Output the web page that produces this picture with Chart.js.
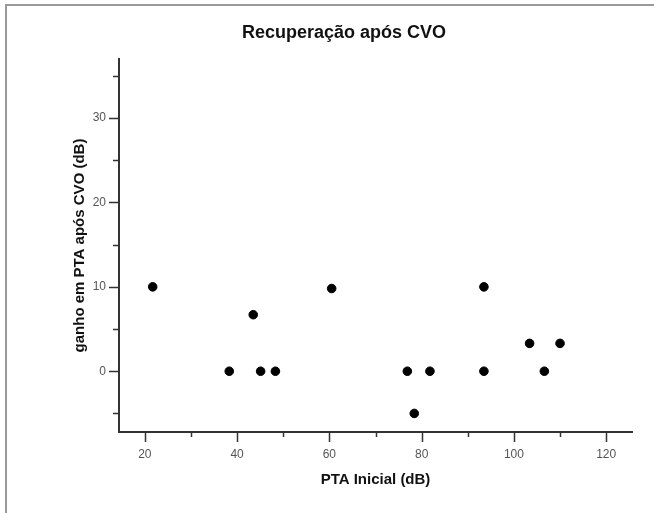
<!DOCTYPE html>
<html>
<head>
<meta charset="utf-8">
<script src="https://cdn.jsdelivr.net/npm/chart.js@4.4.1/dist/chart.umd.min.js"></script>
<style>
  body { margin: 0; background: #fff; }
  #wrap { position: relative; width: 654px; height: 513px; }
  #frame { position: absolute; left: 5px; top: 4px; right: 0; bottom: 0;
           border-left: 2px solid #999; border-top: 2px solid #999; pointer-events: none; }
</style>
</head>
<body>
<div id="wrap">
  <canvas id="myChart" width="654" height="513"></canvas>
  <div id="frame"></div>
</div>
<script>
// PTA inicial (dB) e ganho após CVO (dB)
var ptaInicial = [21.7, 38.3, 43.5, 45.1, 48.3, 60.5, 76.9, 78.4, 81.8, 93.5, 93.5, 103.4, 106.6, 110.0];
var ganhoPTA   = [10, 0, 6.7, 0, 0, 9.8, 0, -5, 0, 10, 0, 3.3, 0, 3.3];

var fonte = "'Liberation Sans', Arial, sans-serif";

// marcas de escala: maiores nos valores rotulados, menores nos outros
var marcasEixo = {
  id: 'marcasEixo',
  afterDraw: function (chart) {
    var c = chart.ctx, xs = chart.scales.x, ys = chart.scales.y;
    c.save();
    c.strokeStyle = '#333';
    c.lineWidth = 1.5;
    xs.ticks.forEach(function (t) {
      var px = Math.round(xs.getPixelForValue(t.value)) + 0.5;
      var len = t.value % 20 === 0 ? 10 : 5;
      c.beginPath(); c.moveTo(px, xs.top); c.lineTo(px, xs.top + len); c.stroke();
    });
    ys.ticks.forEach(function (t) {
      var py = Math.round(ys.getPixelForValue(t.value)) + 0.5;
      var len = t.value % 10 === 0 ? 10 : 6;
      c.beginPath(); c.moveTo(ys.right, py); c.lineTo(ys.right - len, py); c.stroke();
    });
    c.restore();
  }
};

var ctx = document.getElementById('myChart').getContext('2d');
var myChart = new Chart(ctx, {
  type: 'scatter',
  data: {
    datasets: [{
      data: ptaInicial.map(function (x, i) { return { x: x, y: ganhoPTA[i] }; }),
      backgroundColor: '#000',
      borderColor: '#000',
      pointRadius: 4.3,
      pointHoverRadius: 4.3
    }]
  },
  options: {
    responsive: false,
    animation: false,
    layout: { padding: { left: 56, right: 22, top: 0, bottom: 0 } },
    plugins: {
      legend: { display: false },
      tooltip: { enabled: false },
      title: {
        display: true,
        text: 'Recuperação após CVO',
        color: '#111',
        font: { family: fonte, size: 18, weight: 'bold' },
        padding: { top: 22, bottom: 15.4 }
      }
    },
    scales: {
      x: {
        type: 'linear',
        min: 14.4,
        max: 125.6,
        afterFit: function (s) { s.height = 81; },
        grid: { display: false, drawTicks: false },
        border: { display: true, color: '#333', width: 2 },
        ticks: {
          stepSize: 10,
          includeBounds: false,
          autoSkip: false,
          maxRotation: 0,
          padding: 15,
          color: '#555',
          font: { family: fonte, size: 12 },
          callback: function (v) { return v % 20 === 0 ? v : ''; }
        },
        title: {
          display: true,
          text: 'PTA Inicial (dB)',
          color: '#111',
          font: { family: fonte, size: 15, weight: 'bold' },
          padding: { top: 0, bottom: 24 }
        }
      },
      y: {
        type: 'linear',
        min: -7.2,
        max: 37,
        afterFit: function (s) { s.width = 63; },
        grid: { display: false, drawTicks: false },
        border: { display: true, color: '#333', width: 2 },
        ticks: {
          stepSize: 5,
          includeBounds: false,
          autoSkip: false,
          padding: 13,
          color: '#555',
          font: { family: fonte, size: 12 },
          callback: function (v) { return v % 10 === 0 ? v : ''; }
        },
        title: {
          display: true,
          text: 'ganho em PTA após CVO (dB)',
          color: '#111',
          font: { family: fonte, size: 15, weight: 'bold' },
          padding: { top: 15, bottom: 0 }
        }
      }
    }
  },
  plugins: [marcasEixo]
});
</script>
</body>
</html>
